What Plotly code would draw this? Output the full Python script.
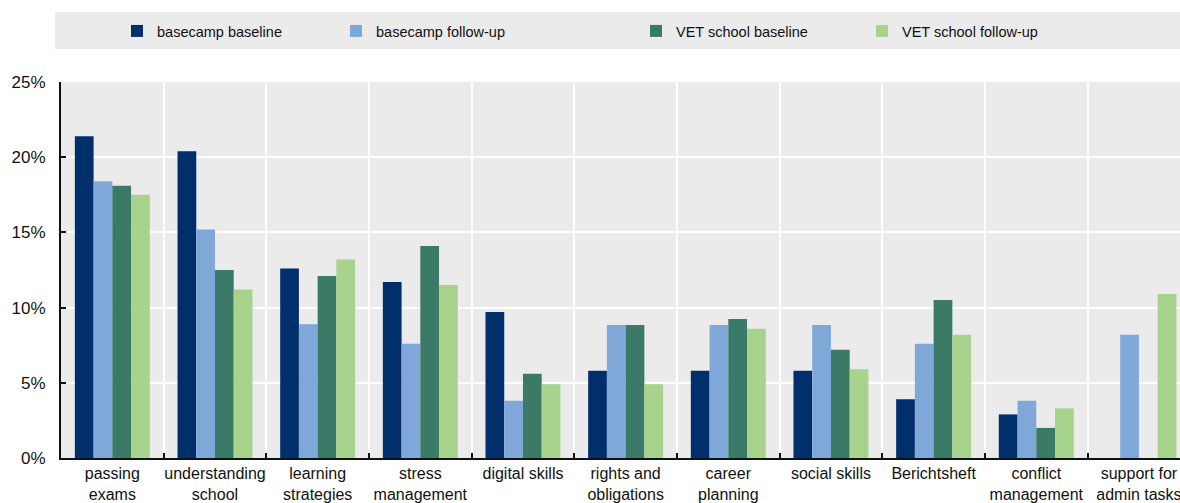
import plotly.graph_objects as go

# Topics and survey shares (%)
categories = [
    "passing<br>exams", "understanding<br>school", "learning<br>strategies",
    "stress<br>management", "digital skills", "rights and<br>obligations",
    "career<br>planning", "social skills", "Berichtsheft",
    "conflict<br>management", "support for<br>admin tasks",
]
basecamp_baseline = [21.4, 20.4, 12.6, 11.7, 9.7, 5.8, 5.8, 5.8, 3.9, 2.9, None]
basecamp_followup = [18.4, 15.2, 8.9, 7.6, 3.8, 8.85, 8.85, 8.85, 7.6, 3.8, 8.2]
vet_baseline = [18.1, 12.5, 12.1, 14.1, 5.6, 8.85, 9.25, 7.2, 10.5, 2.0, None]
vet_followup = [17.5, 11.2, 13.2, 11.5, 4.9, 4.9, 8.6, 5.9, 8.2, 3.3, 10.9]

series = [
    ("basecamp baseline", basecamp_baseline, "#002F6C"),
    ("basecamp follow-up", basecamp_followup, "#7FA8D9"),
    ("VET school baseline", vet_baseline, "#3B7A66"),
    ("VET school follow-up", vet_followup, "#A7D38D"),
]
y_ticks = [0, 5, 10, 15, 20, 25]
y_tick_text = ["0%", "5%", "10%", "15%", "20%", "25%"]

FONT = "Liberation Sans Narrow, Arial Narrow, Liberation Sans, Arial, sans-serif"
TEXT_COLOR = "#111111"
W, H = 1180, 503
ML, MR, MT, MB = 61, 0, 82, 45
PW = W - ML - MR
PH = H - MT - MB


def px_to_paper_x(px):
    return (px - ML) / PW


def px_to_paper_y(py):
    return 1 + (MT - py) / PH


fig = go.Figure()
legend_names = ["legend", "legend2", "legend3", "legend4"]
for (name, vals, color), lg in zip(series, legend_names):
    fig.add_trace(go.Bar(
        x=categories, y=vals, name=name, marker_color=color,
        marker_line_width=0, legend=lg,
    ))

# one legend box per series, spread along the grey band
legend_text_px = [157, 376, 676, 902]
legend_layout = {}
for lg, tx in zip(legend_names, legend_text_px):
    legend_layout[lg] = dict(
        x=px_to_paper_x(tx - 40), xanchor="left",
        y=px_to_paper_y(31), yanchor="middle",
        bgcolor="rgba(0,0,0,0)", borderwidth=0,
        font=dict(family=FONT, size=14.5, color=TEXT_COLOR),
        itemwidth=30, tracegroupgap=0,
    )

fig.update_layout(
    width=W, height=H,
    margin=dict(l=ML, r=MR, t=MT, b=MB, autoexpand=False),
    paper_bgcolor="white",
    plot_bgcolor="#EBEBEB",
    barmode="group",
    bargap=0.27,
    bargroupgap=0,
    font=dict(family=FONT, size=16, color=TEXT_COLOR),
    showlegend=True,
    **legend_layout,
    shapes=[dict(
        type="rect", xref="paper", yref="paper", layer="below",
        x0=px_to_paper_x(55), x1=1.0,
        y0=px_to_paper_y(49), y1=px_to_paper_y(12),
        fillcolor="#EBEBEB", line_width=0,
    )],
)

fig.update_xaxes(
    range=[-0.5, 10.4],
    tickson="boundaries",
    ticks="inside", ticklen=5, tickcolor=TEXT_COLOR, tickwidth=1.5,
    showgrid=True, gridcolor="white", gridwidth=2,
    showline=True, linecolor=TEXT_COLOR, linewidth=2,
    tickfont=dict(family=FONT, size=16, color=TEXT_COLOR),
    tickangle=0, automargin=False,
)
fig.update_yaxes(
    range=[0, 25],
    tickvals=y_ticks, ticktext=y_tick_text,
    ticks="inside", ticklen=5, tickcolor=TEXT_COLOR, tickwidth=1.5,
    showgrid=True, gridcolor="white", gridwidth=2,
    zeroline=False,
    showline=True, linecolor=TEXT_COLOR, linewidth=2,
    tickfont=dict(family=FONT, size=17, color=TEXT_COLOR),
    ticklabelstandoff=10, automargin=False,
)

fig.write_html("out.html")
